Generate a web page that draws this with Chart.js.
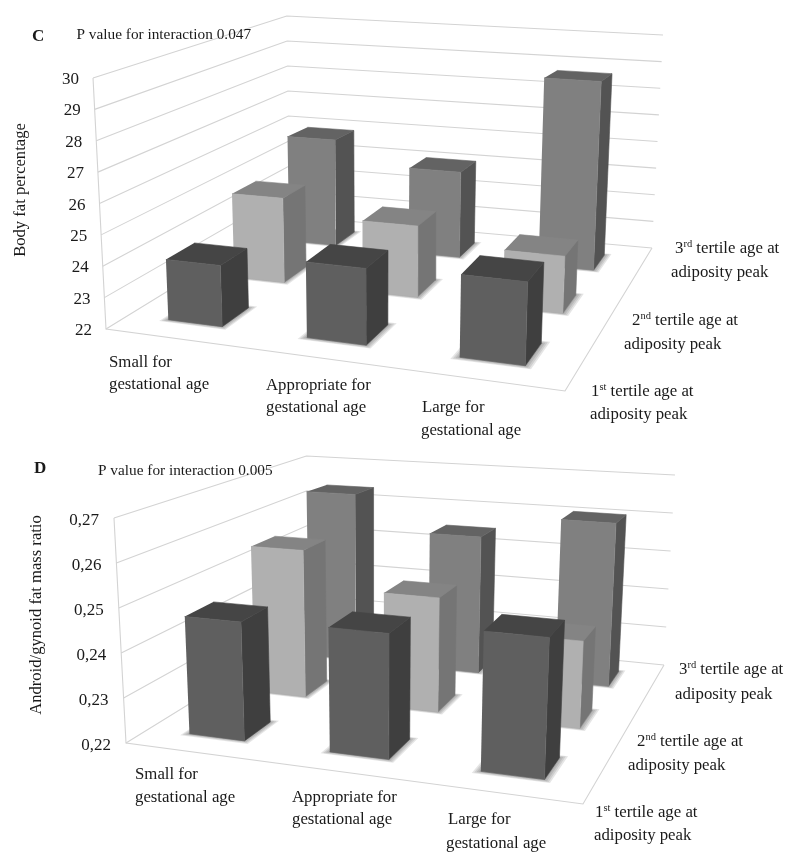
<!DOCTYPE html>
<html>
<head>
<meta charset="utf-8">
<title>Body fat and android/gynoid ratio</title>
<script src="https://cdn.jsdelivr.net/npm/chart.js@4/dist/chart.umd.min.js"></script>
<style>
  html, body { margin: 0; padding: 0; background: #fff; }
  canvas { position: absolute; left: 0; filter: blur(0.35px); }
</style>
</head>
<body>
<canvas id="panelC" width="800" height="448" style="top:0"></canvas>
<canvas id="panelD" width="800" height="414" style="top:448px"></canvas>
<script>
// values, one array per tertile, SGA / AGA / LGA
const categories = ['Small for|gestational age', 'Appropriate for|gestational age', 'Large for|gestational age'];
const tertiles = ['1|st| tertile age at|adiposity peak', '2|nd| tertile age at|adiposity peak', '3|rd| tertile age at|adiposity peak'];

const bodyFatTicks = [22, 23, 24, 25, 26, 27, 28, 29, 30];
const bodyFatFirst = [23.94, 24.35, 24.48];
const bodyFatSecond = [24.87, 24.35, 23.83];
const bodyFatThird = [25.9, 25.07, 28.65];

const ratioTicks = [0.22, 0.23, 0.24, 0.25, 0.26, 0.27];
const ratioFirst = [0.2464, 0.2471, 0.2496];
const ratioSecond = [0.2552, 0.2466, 0.2397];
const ratioThird = [0.2635, 0.2546, 0.2604];

// front, top, side of the bars per tertile
const faces = [
  ['#5f5f5f', '#454545', '#3f3f3f'],
  ['#b0b0b0', '#848484', '#757575'],
  ['#808080', '#636363', '#535353'],
];
const gridColor = '#d3d3d3';
const serif = '"Liberation Serif", serif';

// unit square -> quad (front-left, front-right, back-right, back-left)
function homography(q) {
  const [p0, p1, p2, p3] = q;
  const dx1 = p1[0] - p2[0], dx2 = p3[0] - p2[0], sx = p0[0] - p1[0] + p2[0] - p3[0];
  const dy1 = p1[1] - p2[1], dy2 = p3[1] - p2[1], sy = p0[1] - p1[1] + p2[1] - p3[1];
  const den = dx1 * dy2 - dx2 * dy1;
  const g = (sx * dy2 - dx2 * sy) / den, h = (dx1 * sy - sx * dy1) / den;
  const a = p1[0] - p0[0] + g * p1[0], b = p3[0] - p0[0] + h * p3[0];
  const d = p1[1] - p0[1] + g * p1[1], e = p3[1] - p0[1] + h * p3[1];
  return (u, v) => {
    const w = g * u + h * v + 1;
    return [(a * u + b * v + p0[0]) / w, (d * u + e * v + p0[1]) / w];
  };
}

function polygon(points, color) {
  return {
    data: points.map(p => ({x: p[0], y: p[1]})),
    showLine: true, fill: 'shape', backgroundColor: color,
    borderColor: color, borderWidth: 0.6, pointRadius: 0, tension: 0,
  };
}
function shadow(points, color) {
  const set = polygon(points, color);
  set.borderWidth = 0;
  return set;
}
function polyline(points) {
  return {
    data: points.map(p => ({x: p[0], y: p[1]})),
    showLine: true, fill: false, borderColor: gridColor, borderWidth: 1.1, pointRadius: 0, tension: 0,
  };
}

function drawPanel(id, cfg) {
  const floor = homography(cfg.floor);
  const lo = cfg.ticks[0], hi = cfg.ticks[cfg.ticks.length - 1];
  // wall height is bilinear over the floor, verticals run to the vanishing point
  const project = (u, v, val) => {
    const t = (val - lo) / (hi - lo), f = floor(u, v), H = cfg.heights;
    const rise = t * ((1 - v) * ((1 - u) * H[0] + u * H[1]) + v * ((1 - u) * H[3] + u * H[2]));
    const lean = (cfg.vanish[0] - f[0]) / (cfg.vanish[1] - f[1]);
    return [f[0] - lean * rise, f[1] - rise];
  };

  const sets = [];
  // walls
  cfg.ticks.forEach(t => sets.push(polyline([project(0, 0, t), project(0, 1, t), project(1, 1, t)])));
  sets.push(polyline([project(0, 0, hi), project(0, 0, lo), project(1, 0, lo), project(1, 1, lo)]));

  // bars, back row first, left to right
  for (let s = 2; s >= 0; s--) {
    cfg.series[s].forEach((val, c) => {
      const u0 = (c + 0.3) / 3, u1 = (c + 0.7) / 3, v0 = (s + 0.3) / 3, v1 = (s + 0.7) / 3;
      [0.015, 0.011, 0.007, 0.003].forEach(m => {
        sets.push(shadow([project(u0 - m, v0 - m, lo), project(u1 + m, v0 - m, lo), project(u1 + m, v1 + m, lo), project(u0 - m, v1 + m, lo)], 'rgba(0,0,0,0.1)'));
      });
      const [front, top, side] = faces[s];
      sets.push(polygon([project(u1, v0, lo), project(u1, v1, lo), project(u1, v1, val), project(u1, v0, val)], side));
      sets.push(polygon([project(u0, v0, val), project(u1, v0, val), project(u1, v1, val), project(u0, v1, val)], top));
      sets.push(polygon([project(u0, v0, lo), project(u1, v0, lo), project(u1, v0, val), project(u0, v0, val)], front));
    });
  }

  const textPlugin = {
    id: 'panelText',
    afterDraw(chart) {
      const ctx = chart.ctx, sx = chart.scales.x, sy = chart.scales.y;
      const px = p => [sx.getPixelForValue(p[0]), sy.getPixelForValue(p[1])];
      ctx.save();
      ctx.fillStyle = '#1a1a1a';
      ctx.textBaseline = 'alphabetic';

      // value axis labels hang off the front-left edge
      ctx.font = cfg.tickFont + ' ' + serif;
      ctx.textAlign = 'right';
      cfg.ticks.forEach(t => {
        const [x, y] = px(project(0, 0, t));
        ctx.fillText(cfg.tickText(t), x + cfg.tickOffset[0], y + cfg.tickOffset[1]);
      });

      ctx.textAlign = 'left';
      ctx.font = 'bold 17px ' + serif;
      let [x, y] = px(cfg.letterAt);
      ctx.fillText(cfg.letter, x, y);
      ctx.font = '15.3px ' + serif;
      [x, y] = px(cfg.pAt);
      ctx.fillText(cfg.pText, x, y);

      // category labels
      ctx.font = '16.8px ' + serif;
      categories.forEach((label, i) => {
        label.split('|').forEach((line, k) => {
          const [lx, ly] = px(cfg.catAt[i][k]);
          ctx.fillText(line, lx, ly);
        });
      });

      // depth labels, with the ordinal suffix raised
      tertiles.forEach((label, i) => {
        const [num, suffix, rest, second] = label.split('|');
        let [lx, ly] = px(cfg.tertileAt[i][0]);
        ctx.font = '16.8px ' + serif;
        ctx.fillText(num, lx, ly);
        lx += ctx.measureText(num).width;
        ctx.font = '10.5px ' + serif;
        ctx.fillText(suffix, lx, ly - 6);
        lx += ctx.measureText(suffix).width;
        ctx.font = '16.8px ' + serif;
        ctx.fillText(rest, lx, ly);
        [lx, ly] = px(cfg.tertileAt[i][1]);
        ctx.fillText(second, lx, ly);
      });

      // rotated axis title
      [x, y] = px(cfg.titleAt);
      ctx.translate(x, y);
      ctx.rotate(-Math.PI / 2);
      ctx.textAlign = 'center';
      ctx.font = '16.6px ' + serif;
      ctx.fillText(cfg.title, 0, 0);
      ctx.restore();
    },
  };

  new Chart(document.getElementById(id), {
    type: 'scatter',
    data: {datasets: sets.reverse()},   // chart.js paints the first dataset last
    plugins: [textPlugin],
    options: {
      responsive: false,
      animation: false,
      layout: {padding: 0},
      plugins: {legend: {display: false}, tooltip: {enabled: false}},
      events: [],
      scales: {
        x: {type: 'linear', display: false, min: 0, max: 800},
        y: {type: 'linear', display: false, min: cfg.yRange[0], max: cfg.yRange[1], reverse: true},
      },
    },
  });
}

drawPanel('panelC', {
  yRange: [0, 448],
  ticks: bodyFatTicks,
  tickText: t => String(t),
  tickFont: '17px',
  tickOffset: [-14, 6],
  series: [bodyFatFirst, bodyFatSecond, bodyFatThird],
  floor: [[106, 329], [565, 391], [652, 248], [290, 216]],
  vanish: [377, 5570],
  heights: [251, 280, 213, 200],
  letter: 'C', letterAt: [32, 41],
  pText: 'P value for interaction 0.047', pAt: [76.5, 39],
  title: 'Body fat percentage', titleAt: [25, 190],
  catAt: [[[109, 367], [109, 389]], [[266, 390], [266, 412]], [[422, 412], [421, 435]]],
  tertileAt: [[[591, 396], [590, 419]], [[632, 325], [624, 349]], [[675, 253], [671, 277]]],
});

drawPanel('panelD', {
  yRange: [448, 862],
  ticks: ratioTicks,
  tickText: t => t.toFixed(2).replace('.', ','),
  tickFont: '17px',
  tickOffset: [-15, 7],
  series: [ratioFirst, ratioSecond, ratioThird],
  floor: [[126, 743], [583, 804], [664, 665], [309, 630]],
  vanish: [382, 5540],
  heights: [225, 248, 190, 174],
  letter: 'D', letterAt: [34, 473],
  pText: 'P value for interaction 0.005', pAt: [98, 475],
  title: 'Android/gynoid fat mass ratio', titleAt: [41, 615],
  catAt: [[[135, 779], [135, 802]], [[292, 802], [292, 824]], [[448, 824], [446, 848]]],
  tertileAt: [[[595, 817], [594, 840]], [[637, 746], [628, 770]], [[679, 674], [675, 699]]],
});
</script>
</body>
</html>
